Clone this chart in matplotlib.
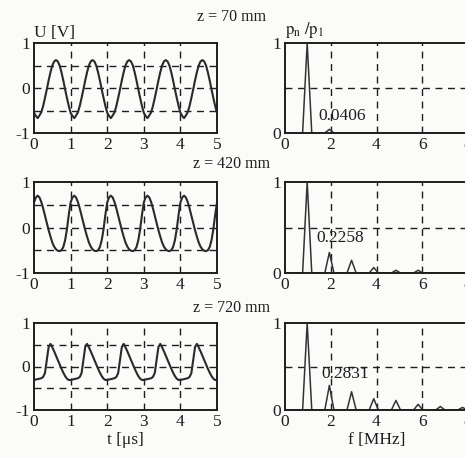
import matplotlib
matplotlib.use("Agg")
import matplotlib.pyplot as plt
import numpy as np

plt.rcParams["font.family"] = ["Liberation Serif", "DejaVu Serif"]
plt.rcParams["mathtext.fontset"] = "stix"
plt.rcParams["axes.unicode_minus"] = False

# Distances from the source
titles = ["z = 70 mm", "z = 420 mm", "z = 720 mm"]

# One period (1 µs) of each measured voltage trace, sampled every 0.05 µs
t_period = [0.00, 0.05, 0.10, 0.15, 0.20, 0.25, 0.30, 0.35, 0.40, 0.45,
            0.50, 0.55, 0.60, 0.65, 0.70, 0.75, 0.80, 0.85, 0.90, 0.95]
u_70 = [-0.55, -0.62, -0.67, -0.61, -0.54, -0.40, -0.22, -0.03, 0.17, 0.35,
        0.50, 0.59, 0.62, 0.59, 0.50, 0.35, 0.17, -0.03, -0.22, -0.40]
u_420 = [0.55, 0.66, 0.70, 0.66, 0.56, 0.42, 0.26, 0.10, -0.06, -0.20,
         -0.33, -0.42, -0.48, -0.51, -0.52, -0.50, -0.43, -0.28, -0.04, 0.28]
u_720 = [-0.31, -0.30, -0.29, -0.28, -0.27, -0.24, -0.15, 0.15, 0.45, 0.52,
         0.44, 0.35, 0.25, 0.15, 0.05, -0.05, -0.14, -0.22, -0.28, -0.31]
n_periods = 5

# Harmonic content: peak frequencies [MHz] and amplitude ratios p_n / p_1
harm_freq = [0.97, 1.94, 2.91, 3.88, 4.85, 5.82, 6.79, 7.76]
ratio_70 = [1.0, 0.0406]
ratio_420 = [1.0, 0.2258, 0.14, 0.06, 0.03, 0.03]
ratio_720 = [1.0, 0.2831, 0.21, 0.13, 0.11, 0.065, 0.04, 0.03]

time_ticks = [0, 1, 2, 3, 4, 5]
freq_ticks = [0, 2, 4, 6, 8]

traces = [u_70, u_420, u_720]
ratios = [ratio_70, ratio_420, ratio_720]

W, H = 465, 458
fig = plt.figure(figsize=(W / 100, H / 100), dpi=100)
bg = "#fbfbf9"
fig.patch.set_facecolor(bg)

ink = "#1e1e1e"
rows_px = [(43, 133), (182, 273), (323, 410)]
left_px = (34, 217)
right_px = (285, 468)
fs_tick = 12.5


def px_axes(xl, xr, yt, yb):
    return fig.add_axes([xl / W, 1 - yb / H, (xr - xl) / W, (yb - yt) / H])


def style(ax):
    ax.set_facecolor(bg)
    for s in ax.spines.values():
        s.set_linewidth(1.4)
        s.set_color(ink)
    ax.tick_params(length=0, labelsize=fs_tick, colors=ink, pad=3)


half_width = 0.2

for i in range(3):
    yt, yb = rows_px[i]

    # time trace
    ax = px_axes(left_px[0], left_px[1], yt, yb)
    style(ax)
    t = np.concatenate([np.array(t_period) + k for k in range(n_periods)] + [[n_periods]])
    u = np.concatenate([np.array(traces[i])] * n_periods + [[traces[i][0]]])
    for yv in (-0.5, 0, 0.5):
        ax.axhline(yv, color=ink, lw=1.0, dashes=(5, 4), zorder=1)
    for xv in (1, 2, 3, 4):
        ax.axvline(xv, color=ink, lw=1.0, dashes=(5, 4), zorder=1)
    ax.plot(t, u, color="#2a2a2a", lw=1.5, zorder=2)
    ax.set_xlim(0, 5)
    ax.set_ylim(-1, 1)
    ax.set_xticks(time_ticks)
    ax.set_yticks([-1, 0, 1])
    if i == 0:
        ax.text(0.0, 1.02, "U [V]", transform=ax.transAxes, fontsize=12.5,
                ha="left", va="bottom", color=ink)
    if i == 2:
        ax.set_xlabel("t [μs]", fontsize=12.5, color=ink, labelpad=1)

    # spectrum
    ax2 = px_axes(right_px[0], right_px[1], yt, yb)
    style(ax2)
    ax2.axhline(0.5, color=ink, lw=1.0, dashes=(5, 4), zorder=1)
    for xv in (2, 4, 6):
        ax2.axvline(xv, color=ink, lw=1.0, dashes=(5, 4), zorder=1)
    fx, fy = [0.0], [0.0]
    for f, r in zip(harm_freq, ratios[i]):
        fx += [f - half_width, f, f + half_width]
        fy += [0.0, r, 0.0]
    fx.append(8.0)
    fy.append(0.0)
    ax2.plot(fx, fy, color="#333333", lw=1.1, zorder=2)
    ax2.set_xlim(0, 8)
    ax2.set_ylim(0, 1)
    ax2.set_xticks(freq_ticks)
    ax2.set_yticks([0, 1])
    label_pos = [(1.45, 0.19), (1.39, 0.38), (1.57, 0.41)][i]
    ax2.text(label_pos[0], label_pos[1], f"{ratios[i][1]:.4f}", fontsize=12.5,
             ha="left", va="center", color=ink, zorder=3)
    if i == 0:
        ax2.text(0.0, 1.03, r"$\mathrm{p_n\ /p_1}$", transform=ax2.transAxes,
                 fontsize=12, ha="left", va="bottom", color=ink)
    if i == 2:
        ax2.set_xlabel("f [MHz]", fontsize=12.5, color=ink, labelpad=1)

    # distance caption between the two panels
    title_y = [17, 164, 308][i]
    fig.text(232 / W, 1 - title_y / H, titles[i], fontsize=11.5, ha="center",
             va="center", color=ink)

fig.savefig("out.png", dpi=100, facecolor=bg)
